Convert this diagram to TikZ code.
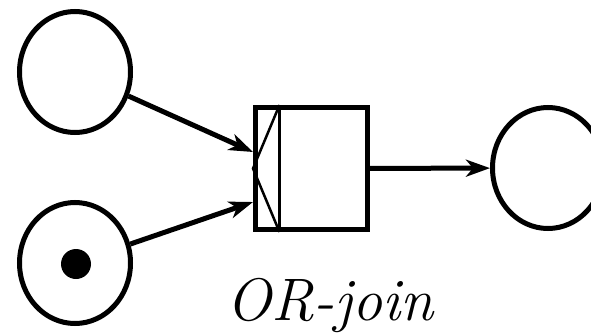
\documentclass[tikz,border=0pt]{standalone}
\usetikzlibrary{arrows.meta,shapes.geometric}

\begin{document}
\begin{tikzpicture}[x=1pt,y=1pt,
	place/.style={draw,ellipse,line width=5pt,minimum width=111pt,minimum height=121pt,inner sep=0pt},
	trans/.style={draw,rectangle,line width=5pt,minimum width=112pt,minimum height=122pt,inner sep=0pt},
	arc/.style={line width=5pt,-{Stealth[length=24pt,width=17pt,inset=7pt]}}]
	\useasboundingbox (0,0) rectangle (591,333);
	\node[place] (p1) at (75,261) {};
	\node[place] (p2) at (75,70) {};
	\fill (76,69) circle(15);
	\node[trans] (t) at (311.5,164.5) {};
	\draw[line width=2.5pt] ([xshift=26.5pt]t.north west) -- ([xshift=26.5pt]t.south west);
	\draw[line width=2.5pt] ([xshift=26.5pt]t.north west) -- (t.west) -- ([xshift=26.5pt]t.south west);
	\node[place] (p3) at (548,165) {};
	\coordinate (in1) at (253,181);
	\coordinate (in2) at (253,131);
	\draw[arc] (p1) -- (in1);
	\draw[arc] (p2) -- (in2);
	\draw[arc] (t) -- (p3);
	\node[anchor=base] at (330,13) {\fontsize{60}{62}\selectfont\itshape OR-join};
\end{tikzpicture}
\end{document}
